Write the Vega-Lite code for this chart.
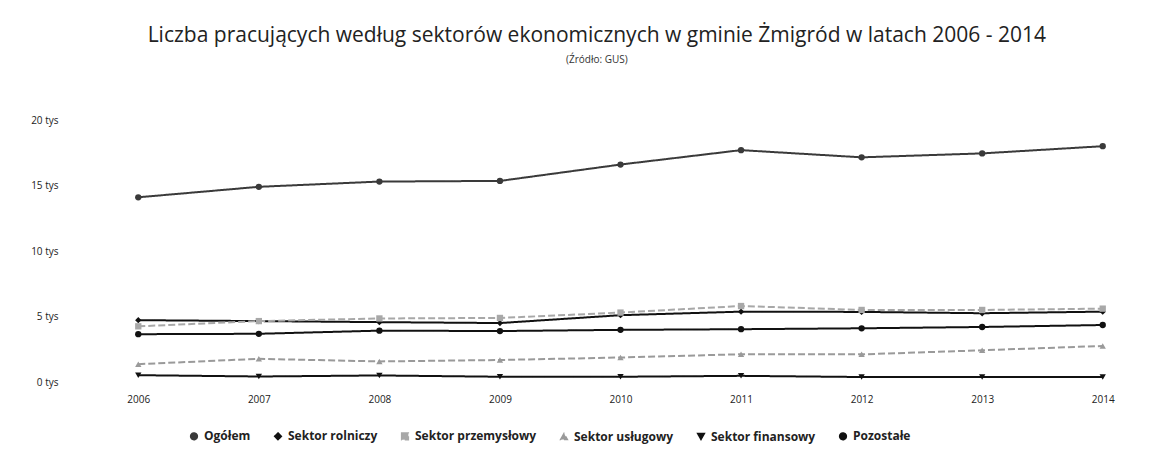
{
  "$schema": "https://vega.github.io/schema/vega-lite/v6.json",
  "autosize": {"type": "none"},
  "width": 1085,
  "height": 262,
  "padding": {"left": 78, "top": 120, "right": 9, "bottom": 86},
  "background": "white",
  "title": {
    "text": "Liczba pracujących według sektorów ekonomicznych w gminie Żmigród w latach 2006 - 2014",
    "subtitle": "(Źródło: GUS)",
    "anchor": "middle",
    "frame": "bounds",
    "font": "Open Sans",
    "fontSize": 21,
    "fontWeight": "normal",
    "color": "#222",
    "subtitleFont": "Open Sans",
    "subtitleFontSize": 10,
    "subtitleColor": "#333",
    "subtitlePadding": 9,
    "offset": 50
  },
  "data": {
    "values": [
      {"rok": "2006", "seria": "Ogółem", "wartosc": 14100},
      {"rok": "2007", "seria": "Ogółem", "wartosc": 14900},
      {"rok": "2008", "seria": "Ogółem", "wartosc": 15300},
      {"rok": "2009", "seria": "Ogółem", "wartosc": 15350},
      {"rok": "2010", "seria": "Ogółem", "wartosc": 16600},
      {"rok": "2011", "seria": "Ogółem", "wartosc": 17700},
      {"rok": "2012", "seria": "Ogółem", "wartosc": 17150},
      {"rok": "2013", "seria": "Ogółem", "wartosc": 17450},
      {"rok": "2014", "seria": "Ogółem", "wartosc": 18000},
      {"rok": "2006", "seria": "Sektor rolniczy", "wartosc": 4720},
      {"rok": "2007", "seria": "Sektor rolniczy", "wartosc": 4650},
      {"rok": "2008", "seria": "Sektor rolniczy", "wartosc": 4570},
      {"rok": "2009", "seria": "Sektor rolniczy", "wartosc": 4500},
      {"rok": "2010", "seria": "Sektor rolniczy", "wartosc": 5100},
      {"rok": "2011", "seria": "Sektor rolniczy", "wartosc": 5370},
      {"rok": "2012", "seria": "Sektor rolniczy", "wartosc": 5350},
      {"rok": "2013", "seria": "Sektor rolniczy", "wartosc": 5250},
      {"rok": "2014", "seria": "Sektor rolniczy", "wartosc": 5370},
      {"rok": "2006", "seria": "Sektor przemysłowy", "wartosc": 4250},
      {"rok": "2007", "seria": "Sektor przemysłowy", "wartosc": 4650},
      {"rok": "2008", "seria": "Sektor przemysłowy", "wartosc": 4850},
      {"rok": "2009", "seria": "Sektor przemysłowy", "wartosc": 4890},
      {"rok": "2010", "seria": "Sektor przemysłowy", "wartosc": 5300},
      {"rok": "2011", "seria": "Sektor przemysłowy", "wartosc": 5800},
      {"rok": "2012", "seria": "Sektor przemysłowy", "wartosc": 5500},
      {"rok": "2013", "seria": "Sektor przemysłowy", "wartosc": 5500},
      {"rok": "2014", "seria": "Sektor przemysłowy", "wartosc": 5600},
      {"rok": "2006", "seria": "Sektor usługowy", "wartosc": 1360},
      {"rok": "2007", "seria": "Sektor usługowy", "wartosc": 1770},
      {"rok": "2008", "seria": "Sektor usługowy", "wartosc": 1570},
      {"rok": "2009", "seria": "Sektor usługowy", "wartosc": 1680},
      {"rok": "2010", "seria": "Sektor usługowy", "wartosc": 1870},
      {"rok": "2011", "seria": "Sektor usługowy", "wartosc": 2120},
      {"rok": "2012", "seria": "Sektor usługowy", "wartosc": 2110},
      {"rok": "2013", "seria": "Sektor usługowy", "wartosc": 2420},
      {"rok": "2014", "seria": "Sektor usługowy", "wartosc": 2750},
      {"rok": "2006", "seria": "Sektor finansowy", "wartosc": 520},
      {"rok": "2007", "seria": "Sektor finansowy", "wartosc": 420},
      {"rok": "2008", "seria": "Sektor finansowy", "wartosc": 500},
      {"rok": "2009", "seria": "Sektor finansowy", "wartosc": 400},
      {"rok": "2010", "seria": "Sektor finansowy", "wartosc": 400},
      {"rok": "2011", "seria": "Sektor finansowy", "wartosc": 470},
      {"rok": "2012", "seria": "Sektor finansowy", "wartosc": 380},
      {"rok": "2013", "seria": "Sektor finansowy", "wartosc": 390},
      {"rok": "2014", "seria": "Sektor finansowy", "wartosc": 380},
      {"rok": "2006", "seria": "Pozostałe", "wartosc": 3650},
      {"rok": "2007", "seria": "Pozostałe", "wartosc": 3680},
      {"rok": "2008", "seria": "Pozostałe", "wartosc": 3920},
      {"rok": "2009", "seria": "Pozostałe", "wartosc": 3890},
      {"rok": "2010", "seria": "Pozostałe", "wartosc": 3980},
      {"rok": "2011", "seria": "Pozostałe", "wartosc": 4030},
      {"rok": "2012", "seria": "Pozostałe", "wartosc": 4100},
      {"rok": "2013", "seria": "Pozostałe", "wartosc": 4200},
      {"rok": "2014", "seria": "Pozostałe", "wartosc": 4350}
    ]
  },
  "mark": {"type": "line", "strokeWidth": 2, "point": {"filled": true, "size": 40, "opacity": 1}},
  "encoding": {
    "x": {
      "field": "rok",
      "type": "ordinal",
      "scale": {"padding": 0.5},
      "axis": {
        "title": null,
        "labelAngle": 0,
        "domain": false,
        "ticks": false,
        "labelPadding": 12,
        "labelFont": "Open Sans",
        "labelFontSize": 10,
        "labelColor": "#222"
      }
    },
    "y": {
      "field": "wartosc",
      "type": "quantitative",
      "scale": {"domain": [0, 20000]},
      "axis": {
        "title": null,
        "values": [0, 5000, 10000, 15000, 20000],
        "labelExpr": "datum.value / 1000 + ' tys'",
        "grid": false,
        "domain": false,
        "ticks": false,
        "labelPadding": 20,
        "labelFont": "Open Sans",
        "labelFontSize": 10,
        "labelColor": "#222"
      }
    },
    "color": {
      "field": "seria",
      "type": "nominal",
      "scale": {
        "domain": ["Ogółem", "Sektor rolniczy", "Sektor przemysłowy", "Sektor usługowy", "Sektor finansowy", "Pozostałe"],
        "range": ["#3a3a3a", "#111111", "#a8a8a8", "#9a9a9a", "#111111", "#111111"]
      },
      "legend": {
        "title": null,
        "orient": "none",
        "legendX": 110,
        "legendY": 310,
        "direction": "horizontal",
        "columns": 6,
        "columnPadding": 20,
        "symbolSize": 45,
        "labelFont": "Open Sans",
        "labelFontSize": 12,
        "labelFontWeight": "bold",
        "labelColor": "#222"
      }
    },
    "shape": {
      "field": "seria",
      "type": "nominal",
      "scale": {
        "domain": ["Ogółem", "Sektor rolniczy", "Sektor przemysłowy", "Sektor usługowy", "Sektor finansowy", "Pozostałe"],
        "range": ["circle", "diamond", "square", "triangle-up", "triangle-down", "circle"]
      }
    },
    "strokeDash": {
      "field": "seria",
      "type": "nominal",
      "scale": {
        "domain": ["Ogółem", "Sektor rolniczy", "Sektor przemysłowy", "Sektor usługowy", "Sektor finansowy", "Pozostałe"],
        "range": [[1, 0], [1, 0], [7, 3], [7, 3], [1, 0], [1, 0]]
      },
      "legend": null
    },
    "order": {"field": "rok"}
  },
  "config": {
    "view": {"stroke": null}
  }
}
